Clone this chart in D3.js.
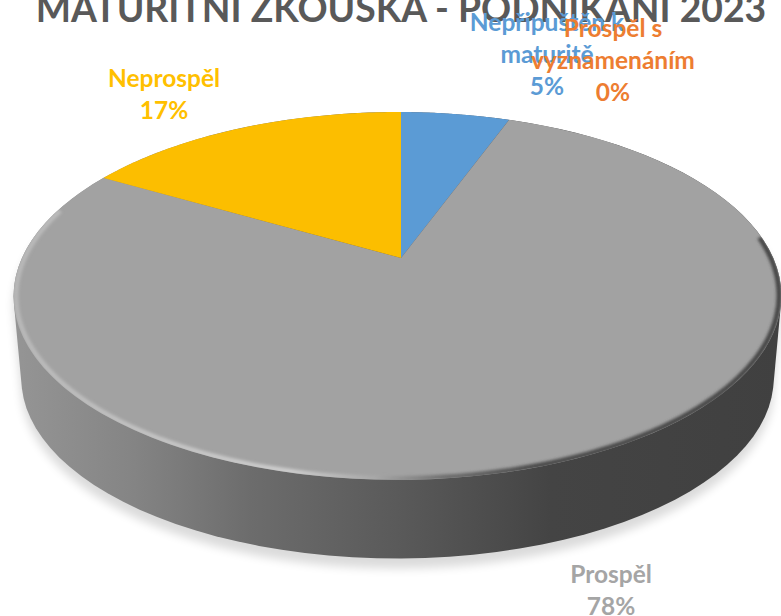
<!DOCTYPE html>
<html>
<head>
<meta charset="utf-8">
<script src="https://cdn.jsdelivr.net/npm/d3@7/dist/d3.min.js"></script>
<style>
html, body { margin: 0; padding: 0; background: #fff; overflow: hidden; }
text { font-family: Lato, "Open Sans", sans-serif; font-weight: 700; text-anchor: middle; }
</style>
</head>
<body>
<script>
// data
const titleText = 'MATURITNÍ ZKOUŠKA - PODNIKÁNÍ 2023';
const categories = ['Nepřipuštěn k maturitě', 'Prospěl s vyznamenáním', 'Prospěl', 'Neprospěl'];
const values = [5.6, 0, 77.7, 16.7];
const percentLabels = ['5%', '0%', '78%', '17%'];
const sliceColors = ['#5b9bd5', '#ed7d31', '#a2a2a2', '#fcbe00'];
const labelColors = ['#5b9bd5', '#ed7d31', '#a5a5a5', '#ffc000'];
const labelLines = [
    ['Nepřipuštěn k', 'maturitě', percentLabels[0]],
    ['Prospěl s', 'vyznamenáním', percentLabels[1]],
    ['Prospěl', percentLabels[2]],
    ['Neprospěl', percentLabels[3]]
];
const labelPos = [[547, 31], [613, 37], [611, 583], [164, 87]];

const width = 781, height = 616;
const svg = d3.select('body').append('svg').attr('width', width).attr('height', height).style('display', 'block');
const defs = svg.append('defs');

// 透视投影：把圆盘上的角度映射到屏幕
const cx = 401, cy = 258, R = 375.6, Ry = 176.1, k = 0.2063, j = 0.009;
function project(a, scale = 1, dy = 0) {
    const x = Math.sin(a), y = -Math.cos(a);
    const w = 1 - k * y + j * x;
    return [cx + scale * R * x / w, cy + dy + scale * Ry * y / w];
}
function arcPoints(a0, a1, scale = 1, dy = 0) {
    return d3.range(0, 121).map(i => project(a0 + (a1 - a0) * i / 120, scale, dy));
}

const pie = d3.pie().sort(null)(values);
const line = d3.line();

// 渐变和模糊
function addGradient(id, stops) {
    const g = defs.append('linearGradient').attr('id', id)
        .attr('gradientUnits', 'userSpaceOnUse')
        .attr('x1', 14).attr('x2', 781).attr('y1', 0).attr('y2', 0);
    stops.forEach(s => g.append('stop').attr('offset', s[0]).attr('stop-color', s[1]));
}
addGradient('sideFill', [[0, '#959595'], [0.15, '#858585'], [0.31, '#6c6c6c'], [0.5, '#5a5a5a'], [0.7, '#444444'], [1, '#404040']]);
addGradient('rimFill', [[0, '#b8b8b8'], [0.2, '#c4c4c4'], [0.36, '#cdcdcd'], [0.47, '#a8a8a8'], [0.56, '#6e6e6e'], [0.68, '#4a4a4a'], [1, '#454545']]);
[['blurShadow', 5], ['blurRim', 1.8]].forEach(f => {
    defs.append('filter').attr('id', f[0])
        .attr('x', '-10%').attr('y', '-10%').attr('width', '120%').attr('height', '120%')
        .append('feGaussianBlur').attr('stdDeviation', f[1]);
});

const full = Math.PI * 2;
const topRing = arcPoints(0, full);
const bottomRing = arcPoints(0, full, 0.98, 83);
const hull = d3.polygonHull(topRing.concat(bottomRing));

// 阴影
svg.append('path')
    .attr('d', line(hull) + 'Z')
    .attr('transform', 'translate(0,10)')
    .attr('fill', '#000')
    .attr('opacity', 0.14)
    .attr('filter', 'url(#blurShadow)');

// 侧面
svg.append('path').attr('d', line(hull) + 'Z').attr('fill', 'url(#sideFill)');

// 顶面的扇区
const faceClip = defs.append('clipPath').attr('id', 'faceClip');
faceClip.append('path').attr('d', line(topRing) + 'Z');

svg.append('g').selectAll('path')
    .data(pie)
    .enter().append('path')
    .attr('d', d => line([[cx, cy]].concat(arcPoints(d.startAngle, d.endAngle))) + 'Z')
    .attr('fill', (d, i) => sliceColors[i]);

// 灰色扇区下半部分的倒角
svg.append('g').attr('clip-path', 'url(#faceClip)')
    .append('path')
    .attr('d', line(arcPoints(1.45, 5.0, 0.994)))
    .attr('fill', 'none')
    .attr('stroke', 'url(#rimFill)')
    .attr('stroke-width', 5)
    .attr('filter', 'url(#blurRim)');

// 标题
svg.append('text')
    .attr('x', 401).attr('y', 22)
    .attr('font-size', 37.3)
    .attr('fill', '#595959')
    .text(titleText);

// 数据标签
svg.append('g').selectAll('text')
    .data(labelLines)
    .enter().append('text')
    .attr('font-size', 24.5)
    .attr('fill', (d, i) => labelColors[i])
    .attr('x', (d, i) => labelPos[i][0])
    .attr('y', (d, i) => labelPos[i][1])
    .selectAll('tspan')
    .data(d => d)
    .enter().append('tspan')
    .attr('x', function () { return d3.select(this.parentNode).attr('x'); })
    .attr('dy', (d, i) => i === 0 ? 0 : 32)
    .text(d => d);
</script>
</body>
</html>
